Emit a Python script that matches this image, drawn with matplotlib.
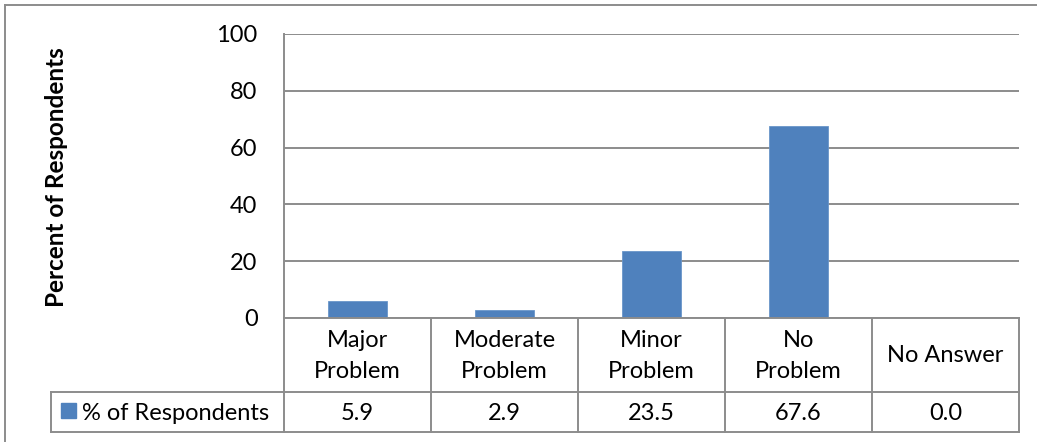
import matplotlib
matplotlib.use("Agg")
import matplotlib.pyplot as plt
from matplotlib.lines import Line2D

categories = ["Major\nProblem", "Moderate\nProblem", "Minor\nProblem", "No\nProblem", "No Answer"]
values = [5.9, 2.9, 23.5, 67.6, 0.0]
series_name = "% of Respondents"
y_ticks = [0, 20, 40, 60, 80, 100]

plt.rcParams["font.family"] = ["Lato", "DejaVu Sans"]

W, H = 1039, 442
fig = plt.figure(figsize=(W / 100, H / 100), dpi=100)

def fx(px):
    return px / W

def fy(py):
    return 1 - py / H

left_px, right_px, top_px, base_px = 284, 1019, 34, 318
ax = fig.add_axes([fx(left_px), fy(base_px), fx(right_px - left_px), fy(top_px) - fy(base_px)])

grid_c = "#8c8c8c"
bar_c = "#4f81bd"
fs = 17

n = len(categories)
ax.bar(range(n), values, width=0.4, color=bar_c, edgecolor="#6a96c9", linewidth=0.6, zorder=3)
ax.set_xlim(-0.5, n - 0.5)
ax.set_ylim(0, 100)
ax.set_yticks(y_ticks)
ax.set_yticklabels([str(t) for t in y_ticks], fontsize=fs)
ax.tick_params(axis="y", length=0, pad=19)
ax.set_xticks([])
ax.grid(axis="y", color=grid_c, linewidth=1.4, zorder=0)
for s in ["top", "right", "bottom"]:
    ax.spines[s].set_visible(False)
ax.spines["left"].set_color(grid_c)
ax.spines["left"].set_linewidth(1.4)

fig.text(fx(57), fy(177), "Percent of Respondents", rotation=90, ha="center", va="center",
         fontsize=17.5, fontweight="bold")

# data table beneath the plot
row1_px, row2_px, bottom_px, legend_left_px = base_px, 392, 432, 51

def hline(x0, x1, y):
    fig.add_artist(Line2D([fx(x0), fx(x1)], [fy(y), fy(y)], color=grid_c, lw=1.4))

def vline(x, y0, y1):
    fig.add_artist(Line2D([fx(x), fx(x)], [fy(y0), fy(y1)], color=grid_c, lw=1.4))

col_w = (right_px - left_px) / n
hline(left_px, right_px, row1_px)
hline(legend_left_px, right_px, row2_px)
hline(legend_left_px, right_px, bottom_px)
vline(legend_left_px, row2_px, bottom_px)
for i in range(n + 1):
    vline(left_px + i * col_w, row1_px, bottom_px)

for i, (cat, v) in enumerate(zip(categories, values)):
    cx = left_px + (i + 0.5) * col_w
    fig.text(fx(cx), fy((row1_px + row2_px) / 2 + 1), cat, ha="center", va="center",
             fontsize=fs, linespacing=1.6)
    fig.text(fx(cx), fy((row2_px + bottom_px) / 2 + 1), f"{v:.1f}", ha="center", va="center",
             fontsize=fs)

# legend key in the first cell
fig.add_artist(plt.Rectangle((fx(61), fy(418)), fx(15), fy(403) - fy(418), color=bar_c,
                             transform=fig.transFigure))
fig.text(fx(82), fy((row2_px + bottom_px) / 2 + 1), series_name, ha="left", va="center", fontsize=fs)

# chart frame
fig.add_artist(Line2D([fx(5), fx(1036)], [fy(5), fy(5)], color=grid_c, lw=1.4))
fig.add_artist(Line2D([fx(5), fx(5)], [fy(5), 0], color=grid_c, lw=1.4))

fig.savefig("out.png", dpi=100)
